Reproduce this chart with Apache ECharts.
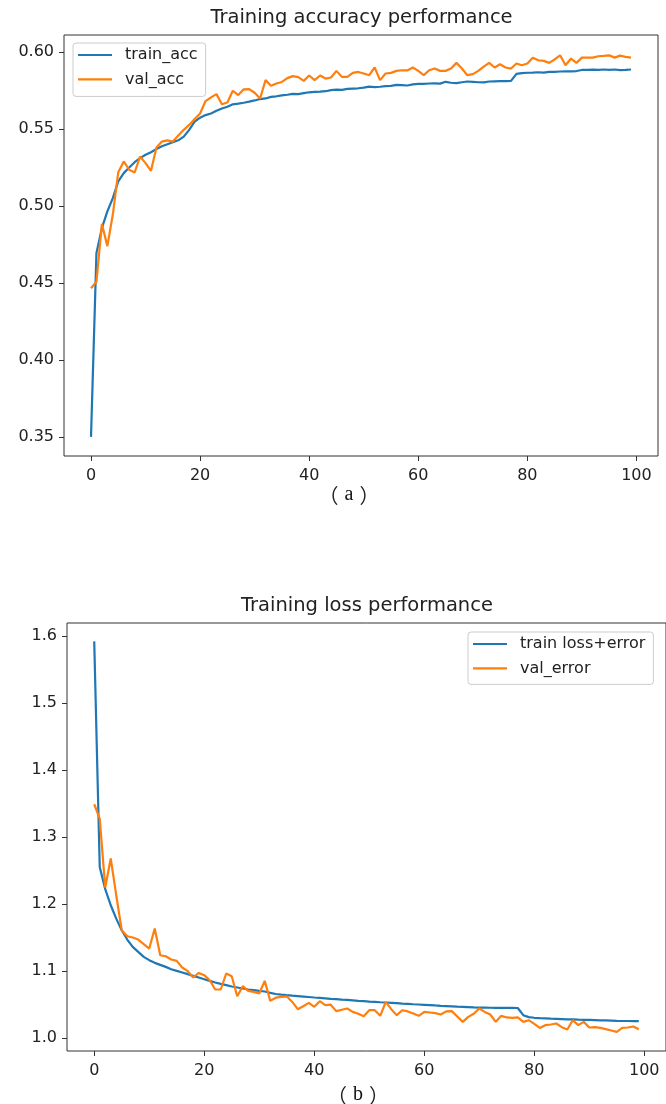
<!DOCTYPE html>
<html>
<head>
<meta charset="utf-8">
<script src="https://cdn.jsdelivr.net/npm/echarts@6/dist/echarts.min.js"></script>
<style>
  html, body { margin: 0; padding: 0; background: #fff; }
  #chart { width: 666px; height: 1104px; }
</style>
</head>
<body>
<div id="chart"></div>
<script>
// Per-epoch accuracy (panel a)
const trainAcc = [
  0.3500, 0.4695, 0.4857, 0.4965, 0.5051, 0.5160, 0.5213, 0.5250, 0.5284, 0.5310,
  0.5332, 0.5349, 0.5370, 0.5388, 0.5400, 0.5413, 0.5426, 0.5450, 0.5494, 0.5547,
  0.5573, 0.5590, 0.5600, 0.5618, 0.5633, 0.5644, 0.5660, 0.5664, 0.5670, 0.5677,
  0.5685, 0.5694, 0.5698, 0.5708, 0.5712, 0.5718, 0.5722, 0.5728, 0.5726, 0.5732,
  0.5738, 0.5741, 0.5742, 0.5745, 0.5752, 0.5755, 0.5754, 0.5760, 0.5762, 0.5764,
  0.5768, 0.5775, 0.5772, 0.5774, 0.5778, 0.5780, 0.5786, 0.5784, 0.5782, 0.5789,
  0.5792, 0.5793, 0.5795, 0.5796, 0.5794, 0.5806, 0.5800, 0.5798, 0.5803, 0.5808,
  0.5806, 0.5803, 0.5802, 0.5808, 0.5809, 0.5810, 0.5810, 0.5812, 0.5858, 0.5862,
  0.5865, 0.5866, 0.5868, 0.5866, 0.5870, 0.5871, 0.5873, 0.5874, 0.5874, 0.5876,
  0.5883, 0.5884, 0.5885, 0.5883, 0.5886, 0.5884, 0.5886, 0.5882, 0.5883, 0.5886
];
const valAcc = [
  0.4465, 0.4508, 0.4883, 0.4739, 0.4944, 0.5219, 0.5289, 0.5235, 0.5217, 0.5321,
  0.5278, 0.5228, 0.5379, 0.5418, 0.5426, 0.5418, 0.5457, 0.5494, 0.5526, 0.5565,
  0.5600, 0.5681, 0.5705, 0.5726, 0.5660, 0.5672, 0.5748, 0.5720, 0.5757, 0.5759,
  0.5735, 0.5698, 0.5817, 0.5780, 0.5795, 0.5805, 0.5830, 0.5843, 0.5836, 0.5812,
  0.5847, 0.5817, 0.5847, 0.5827, 0.5834, 0.5877, 0.5838, 0.5838, 0.5864, 0.5870,
  0.5860, 0.5849, 0.5899, 0.5817, 0.5860, 0.5864, 0.5877, 0.5881, 0.5880, 0.5899,
  0.5877, 0.5849, 0.5881, 0.5892, 0.5877, 0.5877, 0.5892, 0.5929, 0.5892, 0.5849,
  0.5856, 0.5877, 0.5905, 0.5929, 0.5899, 0.5920, 0.5899, 0.5892, 0.5925, 0.5914,
  0.5925, 0.5963, 0.5946, 0.5942, 0.5929, 0.5951, 0.5978, 0.5914, 0.5957, 0.5929,
  0.5963, 0.5963, 0.5963, 0.5972, 0.5974, 0.5978, 0.5963, 0.5976, 0.5968, 0.5963
];

// Per-epoch loss (panel b)
const trainLoss = [
  1.5920, 1.2552, 1.2220, 1.1980, 1.1780, 1.1607, 1.1468, 1.1358, 1.1284, 1.1209,
  1.1160, 1.1120, 1.1090, 1.1060, 1.1025, 1.1000, 1.0976, 1.0951, 1.0925, 1.0901,
  1.0876, 1.0851, 1.0827, 1.0806, 1.0787, 1.0767, 1.0752, 1.0737, 1.0722, 1.0712,
  1.0701, 1.0692, 1.0672, 1.0655, 1.0645, 1.0637, 1.0630, 1.0624, 1.0617, 1.0610,
  1.0603, 1.0597, 1.0590, 1.0583, 1.0578, 1.0570, 1.0566, 1.0560, 1.0553, 1.0548,
  1.0542, 1.0537, 1.0532, 1.0528, 1.0523, 1.0518, 1.0512, 1.0507, 1.0502, 1.0498,
  1.0494, 1.0490, 1.0484, 1.0479, 1.0475, 1.0471, 1.0467, 1.0464, 1.0460, 1.0456,
  1.0453, 1.0452, 1.0450, 1.0449, 1.0448, 1.0448, 1.0447, 1.0446, 1.0339, 1.0310,
  1.0300, 1.0294, 1.0290, 1.0286, 1.0283, 1.0280, 1.0277, 1.0275, 1.0272, 1.0270,
  1.0268, 1.0265, 1.0262, 1.0260, 1.0257, 1.0254, 1.0252, 1.0252, 1.0251, 1.0251
];
const valError = [
  1.3488, 1.3274, 1.2245, 1.2678, 1.2130, 1.1607, 1.1518, 1.1498, 1.1468, 1.1399,
  1.1334, 1.1633, 1.1234, 1.1219, 1.1170, 1.1149, 1.1051, 1.0996, 1.0901, 1.0970,
  1.0936, 1.0861, 1.0722, 1.0722, 1.0961, 1.0921, 1.0622, 1.0772, 1.0701, 1.0687,
  1.0662, 1.0851, 1.0552, 1.0600, 1.0612, 1.0620, 1.0537, 1.0428, 1.0473, 1.0522,
  1.0463, 1.0548, 1.0488, 1.0495, 1.0399, 1.0420, 1.0439, 1.0388, 1.0360, 1.0324,
  1.0413, 1.0413, 1.0329, 1.0537, 1.0428, 1.0339, 1.0413, 1.0395, 1.0364, 1.0329,
  1.0388, 1.0379, 1.0370, 1.0349, 1.0395, 1.0399, 1.0320, 1.0239, 1.0313, 1.0360,
  1.0439, 1.0388, 1.0349, 1.0239, 1.0329, 1.0305, 1.0299, 1.0305, 1.0239, 1.0264,
  1.0210, 1.0149, 1.0190, 1.0200, 1.0215, 1.0160, 1.0125, 1.0264, 1.0190, 1.0239,
  1.0155, 1.0160, 1.0150, 1.0130, 1.0110, 1.0090, 1.0149, 1.0155, 1.0170, 1.0130
];

// Tick labels
const epochTicks = [0, 20, 40, 60, 80, 100];
const accTicks = [0.35, 0.40, 0.45, 0.50, 0.55, 0.60];
const lossTicks = [1.0, 1.1, 1.2, 1.3, 1.4, 1.5, 1.6];

const BLUE = '#1f77b4';
const ORANGE = '#ff7f0e';
const FONT = "'DejaVu Sans', sans-serif";
const INK = '#222';

const pairs = arr => arr.map((v, i) => [i, v]);

function xAxisFor(gridIndex) {
  return {
    type: 'value', gridIndex,
    min: -4.95, max: 103.95,
    splitLine: { show: false },
    axisLine: { show: false, onZero: false },
    axisTick: { show: true, customValues: epochTicks, length: 5, lineStyle: { color: '#333', width: 1 } },
    axisLabel: { customValues: epochTicks, margin: 12, fontSize: 16, color: INK, fontFamily: FONT }
  };
}
function yAxisFor(gridIndex, min, max, ticks, digits) {
  return {
    type: 'value', gridIndex, min, max,
    splitLine: { show: false },
    axisLine: { show: false, onZero: false },
    axisTick: { show: true, customValues: ticks, length: 5, lineStyle: { color: '#333', width: 1 } },
    axisLabel: { customValues: ticks, margin: 10, fontSize: 16, color: INK, fontFamily: FONT,
                 formatter: v => Number(v).toFixed(digits) }
  };
}
function lineSeries(name, data, color, xi, yi) {
  return {
    type: 'line', name, data: pairs(data), xAxisIndex: xi, yAxisIndex: yi,
    showSymbol: false, symbol: 'none', smooth: false,
    lineStyle: { color, width: 2.2 }, itemStyle: { color },
    emphasis: { disabled: true }
  };
}
function legendFor(names, left, top, padding) {
  return {
    data: names, orient: 'vertical', left, top, padding,
    itemGap: 8.4, itemWidth: 34, itemHeight: 2.2, icon: 'rect',
    borderColor: '#cccccc', borderWidth: 1, borderRadius: 3,
    backgroundColor: 'rgba(255,255,255,0.8)',
    textStyle: { fontSize: 16, color: INK, fontFamily: FONT, padding: [0, 0, 0, 8] },
    selectedMode: false
  };
}
function caption(letter, x, y) {
  return {
    type: 'text', x, y,
    style: {
      text: '{p|（}{l|' + letter + '}{p|）}',
      textAlign: 'center', textVerticalAlign: 'middle',
      rich: {
        p: { fontSize: 20, fontFamily: "'Noto Sans CJK SC', sans-serif", fill: '#222' },
        l: { fontSize: 20, fontFamily: "'Liberation Serif', serif", fill: '#111', padding: [0, 6, 0, 6] }
      }
    }
  };
}

const chart = echarts.init(document.getElementById('chart'), null, { renderer: 'canvas' });
chart.setOption({
  animation: false,
  backgroundColor: '#ffffff',
  grid: [
    { left: 64, top: 35, right: 8, bottom: 648, show: true, borderColor: '#333', borderWidth: 1, backgroundColor: 'transparent' },
    { left: 67, top: 623, right: -3, bottom: 53, show: true, borderColor: '#333', borderWidth: 1, backgroundColor: 'transparent' }
  ],
  xAxis: [xAxisFor(0), xAxisFor(1)],
  yAxis: [
    yAxisFor(0, 0.3376, 0.6110, accTicks, 2),
    yAxisFor(1, 0.9804, 1.6194, lossTicks, 1)
  ],
  legend: [
    legendFor(['train_acc', 'val_acc'], 73, 43, [4, 8, 9, 5]),
    legendFor(['train loss+error', 'val_error'], 468, 632, [4, 8, 8, 5])
  ],
  series: [
    lineSeries('train_acc', trainAcc, BLUE, 0, 0),
    lineSeries('val_acc', valAcc, ORANGE, 0, 0),
    lineSeries('train loss+error', trainLoss, BLUE, 1, 1),
    lineSeries('val_error', valError, ORANGE, 1, 1)
  ],
  graphic: [
    { type: 'text', x: 361.5, y: 18, style: { text: 'Training accuracy performance', fontSize: 19.5, fontFamily: FONT, fill: INK, textAlign: 'center', textVerticalAlign: 'middle' } },
    { type: 'text', x: 367, y: 605.5, style: { text: 'Training loss performance', fontSize: 19.5, fontFamily: FONT, fill: INK, textAlign: 'center', textVerticalAlign: 'middle' } },
    caption('a', 349, 495),
    caption('b', 358, 1095)
  ]
});
</script>
</body>
</html>
